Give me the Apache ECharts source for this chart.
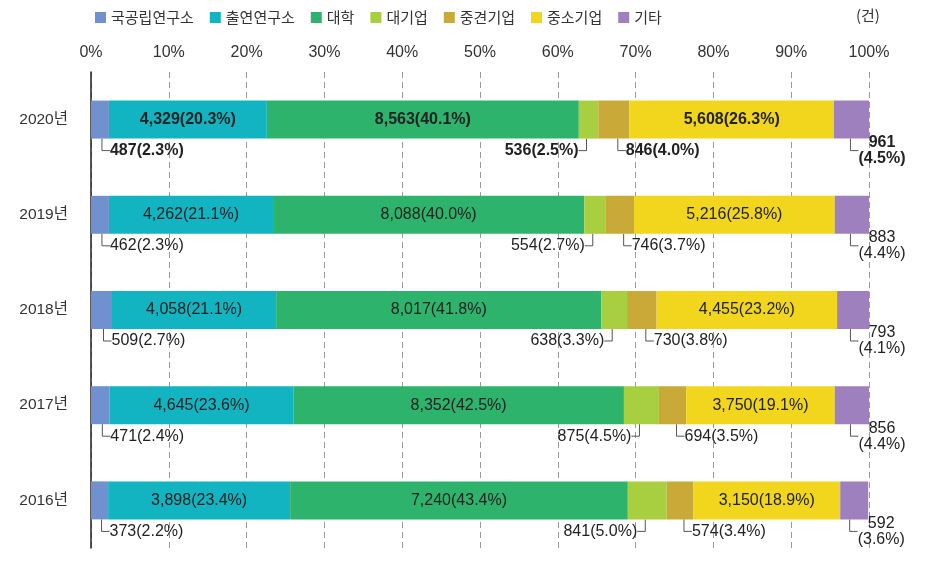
<!DOCTYPE html>
<html>
<head>
<meta charset="utf-8">
<script src="https://cdn.jsdelivr.net/npm/echarts@6/dist/echarts.min.js"></script>
<style>
html,body{margin:0;padding:0;background:#fff;}
#chart{width:936px;height:575px;}
</style>
</head>
<body>
<div id="chart"></div>
<script>
const categories = ['2020년', '2019년', '2018년', '2017년', '2016년'];
const seriesNames = ['국공립연구소', '출연연구소', '대학', '대기업', '중견기업', '중소기업', '기타'];
const tickLabels = ['0%', '10%', '20%', '30%', '40%', '50%', '60%', '70%', '80%', '90%', '100%'];
const unitLabel = '(건)';

// counts (건)
const countNational = [487, 462, 509, 471, 373];
const countInstitute = [4329, 4262, 4058, 4645, 3898];
const countUniv = [8563, 8088, 8017, 8352, 7240];
const countLarge = [536, 554, 638, 875, 841];
const countMid = [846, 746, 730, 694, 574];
const countSmall = [5608, 5216, 4455, 3750, 3150];
const countOther = [961, 883, 793, 856, 592];

// shares (%)
const pctNational = [2.3, 2.3, 2.7, 2.4, 2.2];
const pctInstitute = [20.3, 21.1, 21.1, 23.6, 23.4];
const pctUniv = [40.1, 40.0, 41.8, 42.5, 43.4];
const pctLarge = [2.5, 2.7, 3.3, 4.5, 5.0];
const pctMid = [4.0, 3.7, 3.8, 3.5, 3.4];
const pctSmall = [26.3, 25.8, 23.2, 19.1, 18.9];
const pctOther = [4.5, 4.4, 4.1, 4.4, 3.6];

const colors = ['#7190d0', '#12b4c1', '#2db36b', '#a7cf3f', '#c9aa38', '#f1d61d', '#9f80bf'];

const FONT = '"Liberation Sans", Arial, "Noto Sans CJK KR", sans-serif';
const TEXT = '#222';

function fmt(n) { return n.toLocaleString('en-US'); }

const seriesDefs = [
  { counts: countNational, pct: pctNational, kind: 'national' },
  { counts: countInstitute, pct: pctInstitute, kind: 'inside' },
  { counts: countUniv, pct: pctUniv, kind: 'inside' },
  { counts: countLarge, pct: pctLarge, kind: 'large' },
  { counts: countMid, pct: pctMid, kind: 'mid' },
  { counts: countSmall, pct: pctSmall, kind: 'inside' },
  { counts: countOther, pct: pctOther, kind: 'other' }
];

function layoutFor(kind) {
  return function (p) {
    const r = p.rect;
    const x0 = Math.min(r.x, r.x + r.width);
    const w = Math.abs(r.width);
    const bottom = Math.max(r.y, r.y + r.height);
    const cx = x0 + w / 2;
    const y = bottom + 12;
    if (kind === 'national') return { x: cx + 10, y: y, align: 'left', verticalAlign: 'middle' };
    if (kind === 'large') return { x: cx - 10, y: y, align: 'right', verticalAlign: 'middle' };
    if (kind === 'mid') return { x: cx + 12, y: y, align: 'left', verticalAlign: 'middle' };
    if (kind === 'other') return { x: x0 + w + 13, y: y, align: 'center', verticalAlign: 'middle' };
    return {};
  };
}

const series = seriesDefs.map(function (d, si) {
  const s = {
    name: seriesNames[si],
    type: 'bar',
    stack: 'total',
    barWidth: 38,
    itemStyle: { color: colors[si] },
    data: d.pct.map(function (v, i) {
      return i === 0 ? { value: v, label: { fontWeight: 'bold' } } : v;
    }),
    label: {
      show: true,
      position: 'inside',
      color: TEXT,
      fontFamily: FONT,
      fontSize: 16,
      lineHeight: 16,
      formatter: function (p) {
        const c = fmt(d.counts[p.dataIndex]);
        const pc = d.pct[p.dataIndex].toFixed(1) + '%';
        return d.kind === 'other' ? c + '\n(' + pc + ')' : c + '(' + pc + ')';
      }
    }
  };
  if (d.kind !== 'inside') {
    s.labelLayout = layoutFor(d.kind);
    s.labelLine = { show: true, length2: 8, lineStyle: { color: '#555', width: 1 } };
  }
  return s;
});

const chart = echarts.init(document.getElementById('chart'), null, { renderer: 'canvas' });
chart.setOption({
  animation: false,
  backgroundColor: '#fff',
  legend: {
    data: seriesNames,
    left: 90,
    top: 5,
    itemWidth: 11,
    itemHeight: 11,
    itemGap: 16,
    icon: 'rect',
    textStyle: { fontFamily: '"Noto Sans CJK KR", sans-serif', fontSize: 15, color: '#333' }
  },
  graphic: [{
    type: 'text',
    left: 856,
    top: 8,
    style: { text: unitLabel, fontFamily: '"Noto Sans CJK KR", sans-serif', fontSize: 15, fill: '#333' }
  }],
  grid: { left: 91, right: 67, top: 72, bottom: 27, containLabel: false },
  xAxis: {
    type: 'value',
    position: 'top',
    min: 0,
    max: 100,
    interval: 10,
    axisLine: { show: false },
    axisTick: { show: false },
    axisLabel: {
      margin: 11,
      fontFamily: FONT,
      fontSize: 16,
      color: '#333',
      formatter: function (v) { return tickLabels[Math.round(v / 10)]; }
    },
    splitLine: { show: true, lineStyle: { type: [6, 4], color: '#9a9a9a', width: 1 } }
  },
  yAxis: {
    type: 'category',
    inverse: true,
    data: categories,
    axisLine: { show: true, lineStyle: { color: '#222', width: 1.5 } },
    axisTick: { show: false },
    axisLabel: { margin: 23, fontFamily: FONT, fontSize: 15.5, color: '#333' }
  },
  series: series
});
</script>
</body>
</html>
